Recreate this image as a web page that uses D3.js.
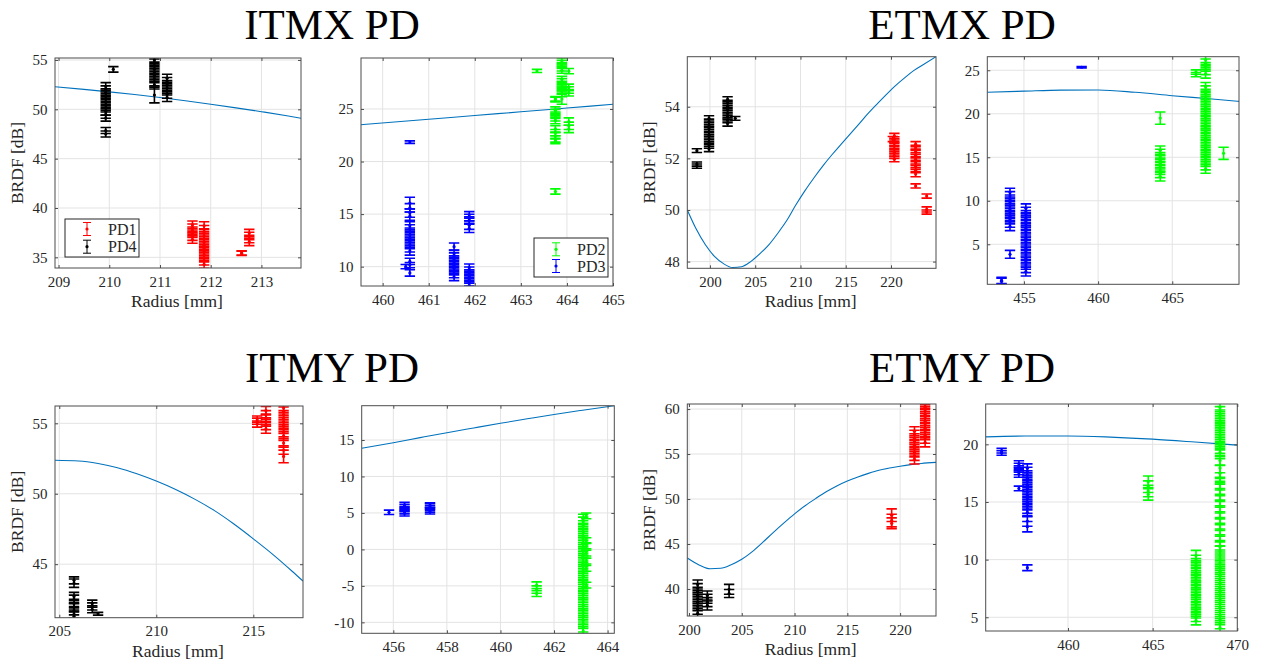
<!DOCTYPE html>
<html><head><meta charset="utf-8">
<script src="https://cdn.jsdelivr.net/npm/d3@7/dist/d3.min.js"></script>
<style>
body{margin:0;background:#fff;}
svg{display:block;}
</style>
</head><body>
<svg id="chart" width="1261" height="669"></svg>
<script>
// ================= DATA =================
const titles = ["ITMX PD", "ETMX PD", "ITMY PD", "ETMY PD"];
const xLabel = "Radius [mm]";
const yLabel = "BRDF [dB]";

// tick labels
const itmxL_xt = [209, 210, 211, 212, 213], itmxL_yt = [35, 40, 45, 50, 55];
const itmxR_xt = [460, 461, 462, 463, 464, 465], itmxR_yt = [10, 15, 20, 25];
const etmxL_xt = [200, 205, 210, 215, 220], etmxL_yt = [48, 50, 52, 54];
const etmxR_xt = [455, 460, 465], etmxR_yt = [5, 10, 15, 20, 25];
const itmyL_xt = [205, 210, 215], itmyL_yt = [45, 50, 55];
const itmyR_xt = [456, 458, 460, 462, 464], itmyR_yt = [-10, -5, 0, 5, 10, 15];
const etmyL_xt = [200, 205, 210, 215, 220], etmyL_yt = [40, 45, 50, 55, 60];
const etmyR_xt = [460, 465, 470], etmyR_yt = [5, 10, 15, 20];

// model curves [radius, BRDF]
const itmxL_model = [[208.93,52.28],[209.5,52.02],[210,51.77],[210.5,51.5],[211,51.2],[211.5,50.87],[212,50.52],[212.5,50.15],[213,49.76],[213.5,49.35],[213.78,49.1]];
const itmxR_model = [[459.53,23.5],[461,24.02],[462,24.38],[463,24.73],[464,25.09],[465,25.45]];
const etmxL_model = [[197.5,50.0],[198.5,49.25],[199.5,48.65],[200.5,48.2],[201.5,47.92],[202.5,47.77],[203.5,47.8],[204.5,48.0],[205.5,48.3],[206.5,48.65],[207.5,49.1],[208.5,49.6],[209.5,50.2],[210.5,50.75],[211.5,51.25],[212.5,51.72],[213.5,52.15],[214.5,52.55],[215.5,52.95],[216.5,53.35],[217.5,53.75],[218.5,54.12],[219.5,54.48],[220.5,54.82],[221.5,55.12],[222.5,55.4],[223.5,55.62],[224.97,55.94]];
const etmxR_model = [[452.53,22.47],[455,22.6],[457.5,22.72],[460,22.73],[462.5,22.47],[465,22.08],[467.5,21.72],[469.5,21.42]];
const itmyL_model = [[204.78,52.38],[206,52.33],[207,52.15],[208,51.85],[209,51.42],[210,50.9],[211,50.3],[212,49.6],[213,48.8],[214,47.85],[215,46.8],[216,45.7],[217,44.5],[217.56,43.8]];
const itmyR_model = [[454.82,13.86],[456,14.63],[457,15.32],[458,16.0],[459,16.65],[460,17.29],[461,17.9],[462,18.5],[463,19.05],[464.25,19.7]];
const etmyL_model = [[199.84,43.45],[201,42.65],[202,42.25],[203,42.3],[204,42.7],[205,43.3],[206,44.15],[207,45.2],[208,46.3],[209,47.35],[210,48.35],[211,49.25],[212,50.05],[213,50.8],[214,51.45],[215,52.0],[216,52.45],[217,52.85],[218,53.2],[219,53.45],[220,53.65],[221,53.82],[222,53.95],[223.4,54.07]];
const etmyR_model = [[455.14,20.65],[457.5,20.72],[460,20.73],[462.5,20.63],[465,20.45],[467.5,20.2],[470,19.93]];

// measurements: [radius, [BRDF values], error]
const itmxPD1 = [
  [211.64, [36.8,37.1,37.4,37.7,38.0,38.3], 0.377],
  [211.87, [34.3,34.62,34.94,35.26,35.58,35.9,36.22,36.54,36.86,37.18,37.5,37.82,38.2], 0.4],
  [212.61, [35.4,35.45], 0.22],
  [212.76, [36.56,36.86,37.16,37.46], 0.377]
];
const itmxPD4 = [
  [209.93, [49.49,49.8,50.12,50.43,50.74,51.05,51.37,51.68,51.99,52.31], 0.39],
  [209.93, [49.1,47.85,47.5], 0.3],
  [210.08, [54.05], 0.28],
  [210.89, [52.46,52.78,53.1,53.42,53.74,54.06,54.38,54.7,55.0], 0.4],
  [210.89, [51.45], 0.8],
  [211.14, [51.2,51.53,51.85,52.17,52.5,52.82,53.15], 0.405]
];
const itmxPD2 = [
  [463.35, [28.62], 0.15],
  [463.75, [25.9,25.97], 0.22],
  [463.75, [23.91,24.16,24.4,24.65,24.89], 0.31],
  [463.75, [23.1,22.75,22.45,22.15], 0.3],
  [463.75, [21.95,17.15], 0.25],
  [463.89, [28.68,28.9,29.13,29.35,29.57], 0.28],
  [463.89, [26.45,26.68,26.9,27.13,27.36,27.59,27.82], 0.284],
  [463.89, [25.95], 0.5],
  [464.04, [28.6], 0.25],
  [464.04, [26.55,26.8,27.05], 0.31],
  [464.04, [23.8,23.4,23.1], 0.35]
];
const itmxPD3 = [
  [460.59, [21.85], 0.12],
  [460.59, [16.05], 0.55],
  [460.59, [15.6,15.1,14.8], 0.4],
  [460.59, [11.48,11.78,12.09,12.39,12.69,13.0,13.3,13.6,13.9], 0.38],
  [460.59, [10.5,9.4], 0.3],
  [460.59, [10.15], 0.25],
  [460.5, [10.0], 0.2],
  [461.55, [11.9], 0.35],
  [461.55, [9.02,9.3,9.57,9.85,10.13,10.4,10.68,10.96,11.23], 0.35],
  [461.88, [14.43,14.68,14.93], 0.31],
  [461.88, [13.95,13.65], 0.4],
  [461.88, [8.22,8.5,8.78,9.06,9.34,9.62,9.9], 0.35]
];
const etmxPD1 = [
  [220.37, [51.97,52.1,52.23,52.36,52.49,52.61,52.74,52.87], 0.1],
  [220.2, [52.75], 0.1],
  [222.72, [51.39,51.54,51.68,51.83,51.97,52.12,52.26,52.41,52.55], 0.1],
  [222.72, [50.93], 0.08],
  [223.94, [50.54,49.92], 0.08],
  [223.94, [50.02], 0.1]
];
const etmxPD4 = [
  [198.56, [52.3], 0.07],
  [198.56, [51.78,51.7], 0.08],
  [199.9, [52.36,52.49,52.63,52.76,52.89,53.02,53.15,53.29,53.42,53.55], 0.1],
  [201.95, [53.35,53.48,53.62,53.75,53.88,54.02,54.15,54.29], 0.1],
  [202.8, [53.55], 0.07]
];
const etmxPD2 = [
  [464.19, [19.5], 0.7],
  [464.19, [12.78,13.16,13.53,13.91,14.29,14.67,15.04,15.42,15.8], 0.5],
  [466.6, [24.5,24.8], 0.25],
  [467.25, [13.66,14.05,14.45,14.84,15.23,15.63,16.02,16.41,16.81,17.2,17.59,17.99,18.38,18.77,19.17,19.56,19.95,20.35,20.74,21.13,21.53,21.92,22.31,22.71,23.1], 0.5],
  [467.25, [24.6,25.0,25.4,25.8,26.2], 0.5],
  [468.46, [15.46], 0.7]
];
const etmxPD3 = [
  [453.49, [0.75,0.85], 0.35],
  [454.06, [7.07,7.46,7.84,8.23,8.62,9.0,9.39,9.78,10.16,10.55,10.94], 0.5],
  [454.06, [3.85], 0.45],
  [455.13, [1.86,2.24,2.63,3.01,3.39,3.78,4.16,4.54,4.93,5.31,5.69,6.08,6.46,6.84,7.23,7.61,7.99,8.38,8.76,9.14], 0.5],
  [458.89, [25.35], 0.08]
];
const itmyPD1 = [
  [215.2, [54.95,55.15,55.3], 0.22],
  [215.65, [54.6,54.85,55.1,55.35,55.6,55.9], 0.3],
  [216.56, [54.1,54.35,54.6,54.85,55.1,55.35,55.6,55.85,56.1], 0.31],
  [216.56, [53.6,53.1], 0.3],
  [216.56, [52.65], 0.45]
];
const itmyPD4 = [
  [205.76, [43.65], 0.3],
  [205.76, [43.85], 0.25],
  [205.76, [41.3,41.45,41.7,41.95,42.2,42.5,42.7], 0.3],
  [206.7, [41.8,42.0,42.2], 0.25],
  [207.0, [41.48], 0.1]
];
const itmyPD2 = [
  [461.35, [-4.9], 0.45],
  [461.35, [-5.5], 0.5],
  [461.35, [-6.05], 0.4],
  [463.09, [-11.2,-10.7,-10.2,-9.7,-9.2,-8.7,-8.2,-7.7,-7.2,-6.7,-6.2,-5.7,-5.2,-4.7,-4.2,-3.7,-3.2,-2.7,-2.2,-1.7,-1.2,-0.7,-0.2,0.3,0.8,1.3,1.8,2.3,2.8,3.3,3.8,4.2], 0.62],
  [463.2, [4.6,1.2,0.5,-0.5,-1.6,-2.6,-4.9], 0.4]
];
const itmyPD3 = [
  [455.84, [5.08], 0.3],
  [456.42, [4.94,5.23,5.52,5.81,6.1], 0.36],
  [457.37, [5.18,5.44,5.7,5.96,6.07], 0.33]
];
const etmyPD1 = [
  [219.2, [48.2,47.6], 0.7],
  [219.2, [47.3], 0.6],
  [221.36, [54.4,54.79,55.18,55.58,55.97,56.36,56.75,57.15,57.54], 0.5],
  [222.37, [56.3,56.69,57.08,57.47,57.86,58.25,58.64,59.03,59.42,59.81,60.2], 0.5],
  [222.37, [60.3], 0.2]
];
const etmyPD4 = [
  [200.82, [37.3,37.7,38.1,38.5,38.9,39.3,39.7,40.1,40.5], 0.5],
  [201.74, [38.17,38.54,38.91,39.28], 0.5],
  [203.8, [39.96], 0.55],
  [203.8, [39.5], 0.45]
];
const etmyPD2 = [
  [464.74, [16.76,16.33,15.95,15.66], 0.5],
  [467.56, [4.72,5.01,5.31,5.6,5.89,6.19,6.48,6.77,7.07,7.36,7.65,7.95,8.24,8.53,8.83,9.12,9.41,9.71,10.0], 0.375],
  [467.56, [10.35], 0.45],
  [468.98, [4.1,4.45,4.8,5.15,5.5,5.85,6.2,6.55,6.9,7.25,7.6,7.95,8.3,8.65,9.0,9.35,9.7,10.05,10.4,10.75,11.1], 0.44],
  [468.98, [11.6,12.1,12.6,13.1,13.6,14.1,14.6,15.1,15.6,16.1,16.6,17.1,18.6], 0.44],
  [468.98, [19.3,19.6,19.9,20.2,20.5,20.8,21.1,21.4,21.7,22.0,22.3,22.6,22.9,23.2], 0.375],
  [468.98, [17.95], 0.8],
  [468.98, [17.5], 0.7]
];
const etmyPD3 = [
  [456.08, [19.45,19.25], 0.2],
  [457.1, [17.42,17.64,17.86,18.08,18.3], 0.28],
  [457.1, [16.18], 0.2],
  [457.6, [14.1,14.39,14.69,14.98,15.28,15.57,15.87,16.16,16.46,16.75,17.05,17.34,17.64,17.93], 0.375],
  [457.6, [13.35,12.86], 0.45],
  [457.6, [9.3], 0.25]
];

// ================= DRAWING =================
const FONT = '"Liberation Serif","Times New Roman",serif';
const TXT = '#262626';
const COL = {PD1: '#ff0000', PD2: '#00ff00', PD3: '#0000ff', PD4: '#000000'};
const svg = d3.select('#chart');

const panels = [
  {box:[55,58,301,268], xd:[208.93,213.78], yd:[33.92,55.2], xt:itmxL_xt, yt:itmxL_yt, model:itmxL_model,
   series:[['PD1',itmxPD1],['PD4',itmxPD4]], labels:true,
   legend:{box:[65,219,139,257], sx:87, tx:108, rows:[229,246.7], half:6.5}},
  {box:[361,58,613,286], xd:[459.53,465.0], yd:[8.16,29.85], xt:itmxR_xt, yt:itmxR_yt, model:itmxR_model,
   series:[['PD2',itmxPD2],['PD3',itmxPD3]], labels:false,
   legend:{box:[534,238,608,277], sx:556, tx:577, rows:[249.3,266], half:6.5}},
  {box:[687.3,56.7,936,268.3], xd:[197.5,224.97], yd:[47.74,55.94], xt:etmxL_xt, yt:etmxL_yt, model:etmxL_model,
   series:[['PD1',etmxPD1],['PD4',etmxPD4]], labels:true},
  {box:[987.3,56.7,1239,284.3], xd:[452.53,469.5], yd:[0.4,26.56], xt:etmxR_xt, yt:etmxR_yt, model:etmxR_model,
   series:[['PD2',etmxPD2],['PD3',etmxPD3]], labels:false},
  {box:[55,406,303,617.7], xd:[204.78,217.56], yd:[41.2,56.23], xt:itmyL_xt, yt:itmyL_yt, model:itmyL_model,
   series:[['PD1',itmyPD1],['PD4',itmyPD4]], labels:true},
  {box:[361.7,405.7,614.3,633.3], xd:[454.82,464.25], yd:[-11.5,19.7], xt:itmyR_xt, yt:itmyR_yt, model:itmyR_model,
   series:[['PD2',itmyPD2],['PD3',itmyPD3]], labels:false},
  {box:[687.3,404,936,616], xd:[199.84,223.4], yd:[37,60.56], xt:etmyL_xt, yt:etmyL_yt, model:etmyL_model,
   series:[['PD1',etmyPD1],['PD4',etmyPD4]], labels:true},
  {box:[985.7,404,1237.3,631], xd:[455.14,470], yd:[3.81,23.5], xt:etmyR_xt, yt:etmyR_yt, model:etmyR_model,
   series:[['PD2',etmyPD2],['PD3',etmyPD3]], labels:false}
];

function flat(groups) {
  const out = [];
  groups.forEach(([x, ys, e]) => ys.forEach(y => out.push({x, y, e})));
  return out;
}

const CAP = 5.2;
panels.forEach((p, i) => {
  const [l, t, r, b] = p.box;
  const x = d3.scaleLinear().domain(p.xd).range([l, r]);
  const y = d3.scaleLinear().domain(p.yd).range([b, t]);
  const g = svg.append('g');
  const clipId = 'clip' + i;
  svg.append('clipPath').attr('id', clipId).append('rect')
    .attr('x', l).attr('y', t).attr('width', r - l).attr('height', b - t);

  // grid
  g.append('g').selectAll('line').data(p.xt).join('line')
    .attr('x1', d => x(d)).attr('x2', d => x(d)).attr('y1', t).attr('y2', b)
    .attr('stroke', '#e3e3e3').attr('stroke-width', 1);
  g.append('g').selectAll('line').data(p.yt).join('line')
    .attr('y1', d => y(d)).attr('y2', d => y(d)).attr('x1', l).attr('x2', r)
    .attr('stroke', '#e3e3e3').attr('stroke-width', 1);

  const plot = g.append('g').attr('clip-path', `url(#${clipId})`);
  // model curve
  plot.append('path').datum(p.model)
    .attr('d', d3.line().x(d => x(d[0])).y(d => y(d[1])).curve(d3.curveMonotoneX))
    .attr('fill', 'none').attr('stroke', '#0072BD').attr('stroke-width', 1.1);

  // error bars
  p.series.forEach(([name, data]) => {
    const pts = flat(data);
    const c = COL[name];
    plot.append('g').selectAll('path').data(pts).join('path')
      .attr('d', d => {
        const X = x(d.x), Y0 = y(d.y - d.e), Y1 = y(d.y + d.e);
        return `M${X},${Y0}V${Y1}M${X - CAP},${Y0}H${X + CAP}M${X - CAP},${Y1}H${X + CAP}`;
      })
      .attr('fill', 'none').attr('stroke', c).attr('stroke-width', 1.6);
    plot.append('g').selectAll('circle').data(pts).join('circle')
      .attr('cx', d => x(d.x)).attr('cy', d => y(d.y)).attr('r', 1.6).attr('fill', c);
  });

  // axes (ticks inward)
  const fmt = d => String(d);
  const styleAxis = a => {
    a.select('.domain').remove();
    a.attr('font-family', FONT).attr('font-size', 15).attr('color', TXT);
    a.selectAll('line').attr('stroke', '#4d4d4d');
  };
  g.append('g').attr('transform', `translate(0,${b})`)
    .call(d3.axisBottom(x).tickValues(p.xt).tickSize(-3).tickPadding(8).tickFormat(fmt)).call(styleAxis);
  g.append('g').attr('transform', `translate(${l},0)`)
    .call(d3.axisLeft(y).tickValues(p.yt).tickSize(-3).tickPadding(7.5).tickFormat(fmt)).call(styleAxis);
  g.append('g').attr('transform', `translate(0,${t})`)
    .call(d3.axisTop(x).tickValues(p.xt).tickSize(-3).tickFormat('')).call(styleAxis);
  g.append('g').attr('transform', `translate(${r},0)`)
    .call(d3.axisRight(y).tickValues(p.yt).tickSize(-3).tickFormat('')).call(styleAxis);

  // frame
  g.append('rect').attr('x', l).attr('y', t).attr('width', r - l).attr('height', b - t)
    .attr('fill', 'none').attr('stroke', '#4d4d4d').attr('stroke-width', 1);

  if (p.labels) {
    g.append('text').text(xLabel)
      .attr('x', (l + r) / 2 - 1).attr('y', b + 39)
      .attr('text-anchor', 'middle').attr('font-family', FONT).attr('font-size', 17.5).attr('fill', TXT);
    g.append('text').text(yLabel)
      .attr('transform', `translate(${l - 32},${(t + b) / 2}) rotate(-90)`)
      .attr('text-anchor', 'middle').attr('font-family', FONT).attr('font-size', 17.5).attr('fill', TXT);
  }

  if (p.legend) {
    const L = p.legend;
    const [bl, bt, br, bb] = L.box;
    g.append('rect').attr('x', bl).attr('y', bt).attr('width', br - bl).attr('height', bb - bt)
      .attr('fill', '#fff').attr('stroke', '#262626').attr('stroke-width', 1);
    p.series.forEach(([name], k) => {
      const cy = L.rows[k], c = COL[name];
      g.append('path')
        .attr('d', `M${L.sx},${cy - L.half}V${cy + L.half}M${L.sx - 4},${cy - L.half}H${L.sx + 4}M${L.sx - 4},${cy + L.half}H${L.sx + 4}`)
        .attr('stroke', c).attr('fill', 'none').attr('stroke-width', 1);
      g.append('circle').attr('cx', L.sx).attr('cy', cy).attr('r', 1.6).attr('fill', c);
      g.append('text').text(name).attr('x', L.tx).attr('y', cy).attr('dy', '0.35em')
        .attr('font-family', FONT).attr('font-size', 16).attr('fill', TXT);
    });
  }
});

// titles
const titlePos = [[332, 38.5], [962, 38.5], [332, 382], [962, 382]];
svg.selectAll('text.title').data(titles).join('text').attr('class', 'title')
  .text(d => d)
  .attr('x', (d, i) => titlePos[i][0]).attr('y', (d, i) => titlePos[i][1])
  .attr('text-anchor', 'middle').attr('font-family', FONT).attr('font-size', 43).attr('fill', '#000');
</script>
</body></html>
